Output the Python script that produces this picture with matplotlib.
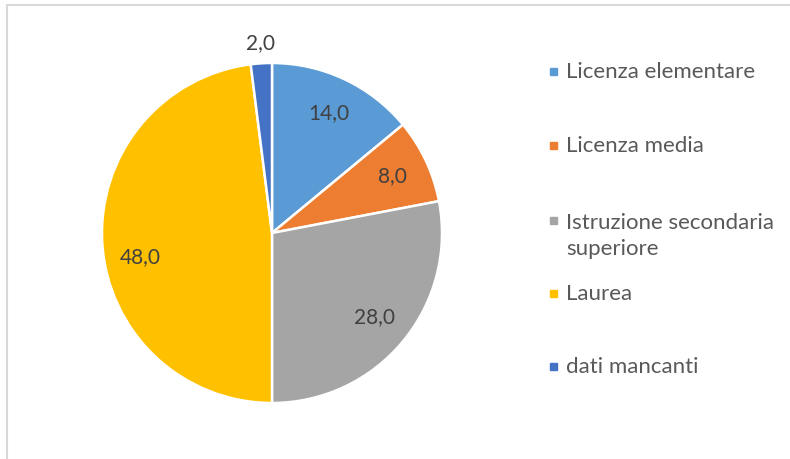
import numpy as np
import matplotlib
matplotlib.use('Agg')
import matplotlib.pyplot as plt
from matplotlib.patches import Rectangle

categories = ['Licenza elementare', 'Licenza media', 'Istruzione secondaria\nsuperiore',
              'Laurea', 'dati mancanti']
values = [14.0, 8.0, 28.0, 48.0, 2.0]
colors = ['#5B9BD5', '#ED7D31', '#A5A5A5', '#FFC000', '#4472C4']

W, H = 790, 459
plt.rcParams['font.family'] = ['Lato', 'DejaVu Sans']

fig = plt.figure(figsize=(W / 100, H / 100), dpi=100)

# chart frame (cut off at right/bottom in the reference)
fig.patches.append(Rectangle((7 / W, -0.1), 1.2, (H - 5) / H + 0.1, transform=fig.transFigure,
                             fill=False, edgecolor='#D9D9D9', linewidth=1.5))

cx, cy, r = 272, 233, 170
ax = fig.add_axes([(cx - r) / W, (H - cy - r) / H, 2 * r / W, 2 * r / H])
wedges, texts, autotexts = ax.pie(values, colors=colors, startangle=90, counterclock=False,
                                  autopct=lambda p: f'{p:.1f}'.replace('.', ','),
                                  pctdistance=0.78, radius=1,
                                  wedgeprops=dict(edgecolor='white', linewidth=1.8),
                                  textprops=dict(color='#404040', fontsize=15))
ax.set_xlim(-1, 1)
ax.set_ylim(-1, 1)
ax.set_aspect('equal')

# small slice label sits outside the pie
w = wedges[-1]
mid = np.deg2rad((w.theta1 + w.theta2) / 2)
autotexts[-1].set_position((1.12 * np.cos(mid), 1.12 * np.sin(mid)))
# Excel nudges the big slice label a little lower
autotexts[3].set_position((-0.775, -0.14))

# legend drawn by hand to follow the Excel spacing (baseline of first line)
leg_base = [78, 152, 227, 300, 373]
line_px = 28
for lab, col, y in zip(categories, colors, leg_base):
    fig.patches.append(Rectangle((550 / W, (H - y + 3) / H), 7 / W, 7 / H,
                                 transform=fig.transFigure, color=col))
    # va='baseline' puts the last line on y, so shift multi-line labels down
    y_last = y + line_px * lab.count('\n')
    fig.text(566 / W, (H - y_last) / H, lab, ha='left', va='baseline',
             fontsize=16, color='#595959', linespacing=1.4)

fig.savefig('out.png', dpi=100)
